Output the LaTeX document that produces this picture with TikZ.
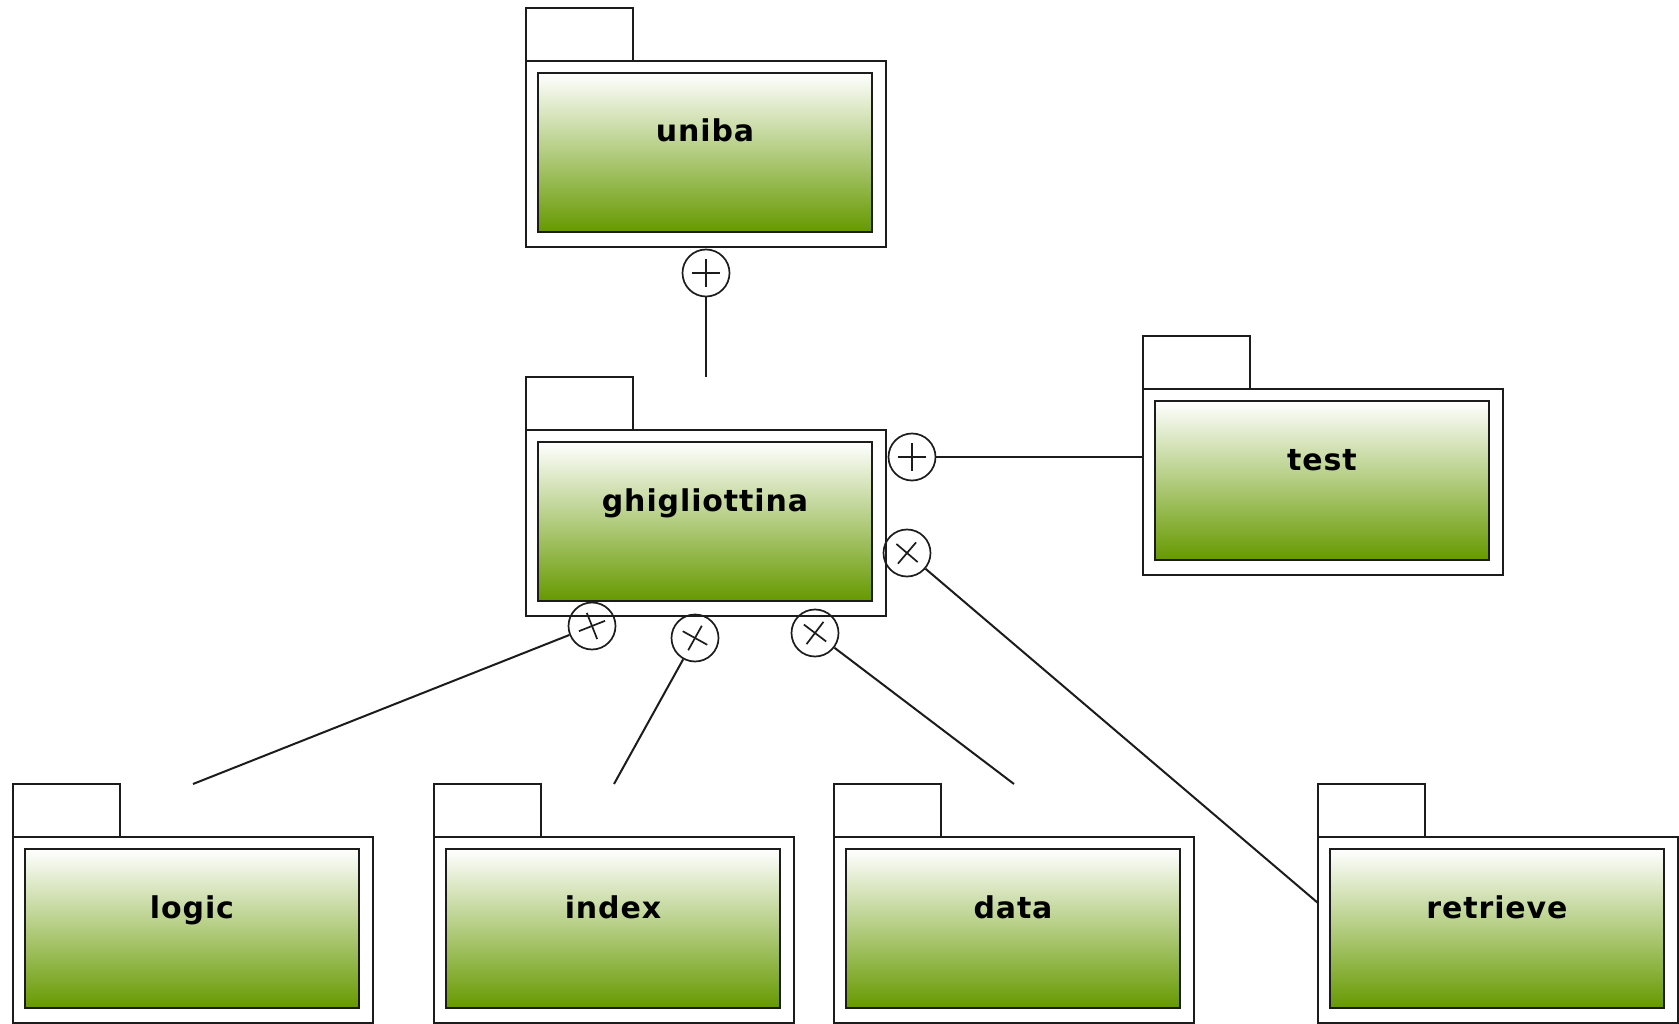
\documentclass[tikz,border=0pt]{standalone}
\usepackage{fontspec}
\setmainfont{DejaVu Sans}
\usetikzlibrary{calc}
\definecolor{pkggreen}{RGB}{102,153,0}
\definecolor{inkc}{RGB}{28,28,28}
\begin{document}
\begin{tikzpicture}[x=1pt,y=-1pt,
  pkgtab/.style={draw=inkc, line width=2pt, fill=white, minimum width=107pt, minimum height=53pt, inner sep=0pt, outer sep=0pt},
  pkgbox/.style={draw=inkc, line width=2pt, fill=white, minimum width=360pt, minimum height=186pt, inner sep=0pt, outer sep=0pt},
  pkginner/.style={draw=inkc, line width=2.2pt, top color=white, bottom color=pkggreen, minimum width=334pt, minimum height=159pt, inner sep=0pt, outer sep=0pt},
  pkglabel/.style={anchor=base, inner sep=0pt, font=\fontsize{30}{36}\selectfont\bfseries\addfontfeatures{LetterSpace=3}, text=black},
  pkgcirc/.style={circle, draw=inkc, line width=1.7pt, minimum size=47pt, inner sep=0pt},
  crossline/.style={draw=inkc, line width=1.7pt},
  conn/.style={draw=inkc, line width=2pt}]
\useasboundingbox (0,0) rectangle (1679,1024);
\newcommand{\umlpkg}[4]{%
  \node[pkgtab, anchor=south west] (#1-tab) at (#2,#3) {};
  \node[pkgbox, anchor=north west] (#1) at (#2,#3) {};
  \node[pkginner, anchor=north west] (#1-in) at ($(#1.north west)+(12,12)$) {};
  \node[pkglabel] (#1-lbl) at ($(#1-in.north)+(0,69)$) {#4};
  \coordinate (#1-top) at ($(#1.north)+(0,-53)$);
}
\newcommand{\crossin}[2]{%
  \draw[crossline] ($(#1)!14pt!(#2)$) -- ($(#1)!-14pt!(#2)$);
  \draw[crossline] ($(#1)!14pt!90:(#2)$) -- ($(#1)!14pt!-90:(#2)$);
}
% packages
\umlpkg{uniba}{526}{61}{uniba}
\umlpkg{ghig}{526}{430}{ghigliottina}
\umlpkg{test}{1143}{389}{test}
\umlpkg{logic}{13}{837}{logic}
\umlpkg{index}{434}{837}{index}
\umlpkg{data}{834}{837}{data}
\umlpkg{retrieve}{1318}{837}{retrieve}
% nesting circles
\node[pkgcirc] (c1) at (706,273) {};
\node[pkgcirc] (c2) at (912,457) {};
\node[pkgcirc] (c3) at (907,553) {};
\node[pkgcirc] (c4) at (592,626) {};
\node[pkgcirc] (c5) at (695,638) {};
\node[pkgcirc] (c6) at (815,633) {};
\coordinate (test-end) at (c2 -| test.west);
\coordinate (retrieve-end) at ($(retrieve.north west)+(0,66)$);
% connectors
\draw[conn] (c1) -- (ghig-top);
\draw[conn] (c2) -- (test-end);
\draw[conn] (c3) -- (retrieve-end);
\draw[conn] (c4) -- (logic-top);
\draw[conn] (c5) -- (index-top);
\draw[conn] (c6) -- (data-top);
% crosses
\crossin{c1}{ghig-top}
\crossin{c2}{test-end}
\crossin{c3}{retrieve-end}
\crossin{c4}{logic-top}
\crossin{c5}{index-top}
\crossin{c6}{data-top}
\end{tikzpicture}
\end{document}
